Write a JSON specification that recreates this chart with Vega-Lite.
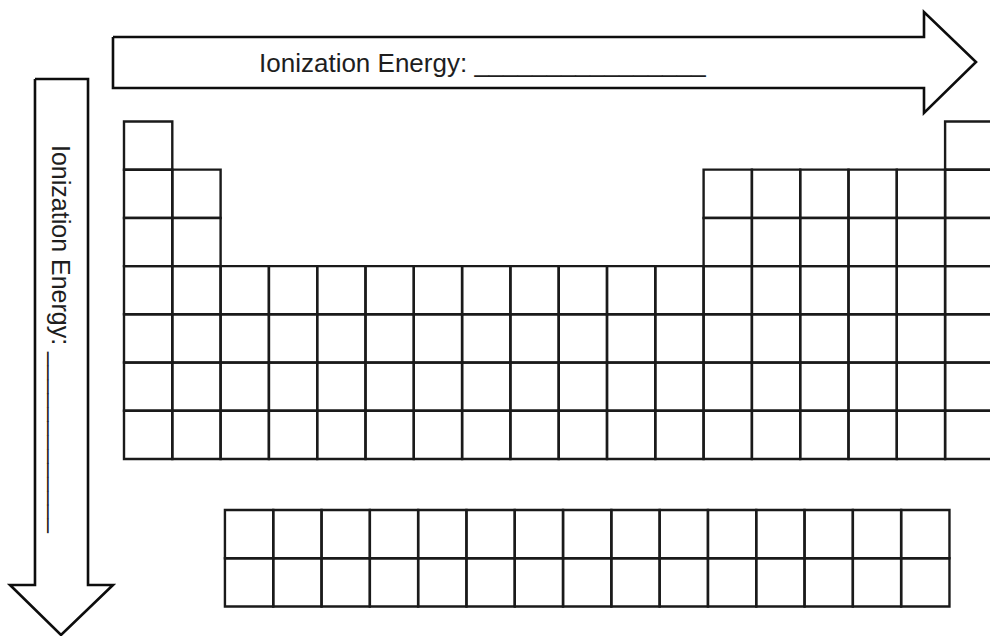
{
  "$schema": "https://vega.github.io/schema/vega-lite/v6.json",
  "width": 990,
  "height": 636,
  "padding": 0,
  "autosize": {"type": "fit", "contains": "padding"},
  "background": "white",
  "config": {"view": {"stroke": null}},
  "datasets": {
    "main": [
      {"group": 1, "period": 1}, {"group": 18, "period": 1},
      {"group": 1, "period": 2}, {"group": 2, "period": 2}, {"group": 13, "period": 2}, {"group": 14, "period": 2}, {"group": 15, "period": 2}, {"group": 16, "period": 2}, {"group": 17, "period": 2}, {"group": 18, "period": 2},
      {"group": 1, "period": 3}, {"group": 2, "period": 3}, {"group": 13, "period": 3}, {"group": 14, "period": 3}, {"group": 15, "period": 3}, {"group": 16, "period": 3}, {"group": 17, "period": 3}, {"group": 18, "period": 3},
      {"group": 1, "period": 4}, {"group": 2, "period": 4}, {"group": 3, "period": 4}, {"group": 4, "period": 4}, {"group": 5, "period": 4}, {"group": 6, "period": 4}, {"group": 7, "period": 4}, {"group": 8, "period": 4}, {"group": 9, "period": 4}, {"group": 10, "period": 4}, {"group": 11, "period": 4}, {"group": 12, "period": 4}, {"group": 13, "period": 4}, {"group": 14, "period": 4}, {"group": 15, "period": 4}, {"group": 16, "period": 4}, {"group": 17, "period": 4}, {"group": 18, "period": 4},
      {"group": 1, "period": 5}, {"group": 2, "period": 5}, {"group": 3, "period": 5}, {"group": 4, "period": 5}, {"group": 5, "period": 5}, {"group": 6, "period": 5}, {"group": 7, "period": 5}, {"group": 8, "period": 5}, {"group": 9, "period": 5}, {"group": 10, "period": 5}, {"group": 11, "period": 5}, {"group": 12, "period": 5}, {"group": 13, "period": 5}, {"group": 14, "period": 5}, {"group": 15, "period": 5}, {"group": 16, "period": 5}, {"group": 17, "period": 5}, {"group": 18, "period": 5},
      {"group": 1, "period": 6}, {"group": 2, "period": 6}, {"group": 3, "period": 6}, {"group": 4, "period": 6}, {"group": 5, "period": 6}, {"group": 6, "period": 6}, {"group": 7, "period": 6}, {"group": 8, "period": 6}, {"group": 9, "period": 6}, {"group": 10, "period": 6}, {"group": 11, "period": 6}, {"group": 12, "period": 6}, {"group": 13, "period": 6}, {"group": 14, "period": 6}, {"group": 15, "period": 6}, {"group": 16, "period": 6}, {"group": 17, "period": 6}, {"group": 18, "period": 6},
      {"group": 1, "period": 7}, {"group": 2, "period": 7}, {"group": 3, "period": 7}, {"group": 4, "period": 7}, {"group": 5, "period": 7}, {"group": 6, "period": 7}, {"group": 7, "period": 7}, {"group": 8, "period": 7}, {"group": 9, "period": 7}, {"group": 10, "period": 7}, {"group": 11, "period": 7}, {"group": 12, "period": 7}, {"group": 13, "period": 7}, {"group": 14, "period": 7}, {"group": 15, "period": 7}, {"group": 16, "period": 7}, {"group": 17, "period": 7}, {"group": 18, "period": 7}
    ],
    "fblock": [
      {"group": 3.09, "period": 9.06}, {"group": 4.09, "period": 9.06}, {"group": 5.09, "period": 9.06}, {"group": 6.09, "period": 9.06}, {"group": 7.09, "period": 9.06}, {"group": 8.09, "period": 9.06}, {"group": 9.09, "period": 9.06}, {"group": 10.09, "period": 9.06}, {"group": 11.09, "period": 9.06}, {"group": 12.09, "period": 9.06}, {"group": 13.09, "period": 9.06}, {"group": 14.09, "period": 9.06}, {"group": 15.09, "period": 9.06}, {"group": 16.09, "period": 9.06}, {"group": 17.09, "period": 9.06},
      {"group": 3.09, "period": 10.06}, {"group": 4.09, "period": 10.06}, {"group": 5.09, "period": 10.06}, {"group": 6.09, "period": 10.06}, {"group": 7.09, "period": 10.06}, {"group": 8.09, "period": 10.06}, {"group": 9.09, "period": 10.06}, {"group": 10.09, "period": 10.06}, {"group": 11.09, "period": 10.06}, {"group": 12.09, "period": 10.06}, {"group": 13.09, "period": 10.06}, {"group": 14.09, "period": 10.06}, {"group": 15.09, "period": 10.06}, {"group": 16.09, "period": 10.06}, {"group": 17.09, "period": 10.06}
    ],
    "arrows": [
      {"arrow": "across", "i": 0, "group": 0.272, "period": -1.253},
      {"arrow": "across", "i": 1, "group": 17.063, "period": -1.253},
      {"arrow": "across", "i": 2, "group": 17.063, "period": -1.771},
      {"arrow": "across", "i": 3, "group": 18.14, "period": -0.734},
      {"arrow": "across", "i": 4, "group": 17.063, "period": 0.324},
      {"arrow": "across", "i": 5, "group": 17.063, "period": -0.195},
      {"arrow": "across", "i": 6, "group": 0.272, "period": -0.195},
      {"arrow": "across", "i": 7, "group": 0.272, "period": -1.253},
      {"arrow": "down", "i": 0, "group": -1.343, "period": -0.382},
      {"arrow": "down", "i": 1, "group": -0.245, "period": -0.382},
      {"arrow": "down", "i": 2, "group": -0.245, "period": 10.114},
      {"arrow": "down", "i": 3, "group": 0.272, "period": 10.114},
      {"arrow": "down", "i": 4, "group": -0.804, "period": 11.151},
      {"arrow": "down", "i": 5, "group": -1.86, "period": 10.114},
      {"arrow": "down", "i": 6, "group": -1.343, "period": 10.114},
      {"arrow": "down", "i": 7, "group": -1.343, "period": -0.382}
    ],
    "labelTop": [
      {"text": "Ionization Energy: ________________", "group": 7.92, "period": -0.527}
    ],
    "labelSide": [
      {"text": "Ionization Energy: _____________", "group": -1.0, "period": 5.01}
    ]
  },
  "encoding": {
    "x": {"field": "group", "type": "quantitative", "axis": null, "scale": {"domain": [-2.0673, 18.4296], "nice": false, "zero": false}},
    "y": {"field": "period", "type": "quantitative", "axis": null, "scale": {"domain": [-2.0202, 11.1721], "nice": false, "zero": false, "reverse": true}}
  },
  "layer": [
    {
      "data": {"name": "main"},
      "mark": {"type": "point", "shape": "square", "size": 2333, "filled": false, "stroke": "#1a1a1a", "strokeWidth": 2.4, "opacity": 1, "clip": true}
    },
    {
      "data": {"name": "fblock"},
      "mark": {"type": "point", "shape": "square", "size": 2336, "filled": false, "stroke": "#1a1a1a", "strokeWidth": 2.4, "opacity": 1, "clip": true}
    },
    {
      "data": {"name": "arrows"},
      "mark": {"type": "line", "stroke": "#0d0d0d", "strokeWidth": 2.6, "strokeJoin": "miter", "clip": true},
      "encoding": {
        "detail": {"field": "arrow", "type": "nominal"},
        "order": {"field": "i", "type": "quantitative"}
      }
    },
    {
      "data": {"name": "labelTop"},
      "mark": {"type": "text", "font": "Liberation Sans", "fontSize": 26, "align": "center", "baseline": "alphabetic", "color": "#1e1e1e"},
      "encoding": {
        "text": {"field": "text", "type": "nominal"}
      }
    },
    {
      "data": {"name": "labelSide"},
      "mark": {"type": "text", "font": "Liberation Sans", "fontSize": 25, "angle": 90, "align": "center", "baseline": "alphabetic", "color": "#1e1e1e"},
      "encoding": {
        "text": {"field": "text", "type": "nominal"}
      }
    }
  ]
}
